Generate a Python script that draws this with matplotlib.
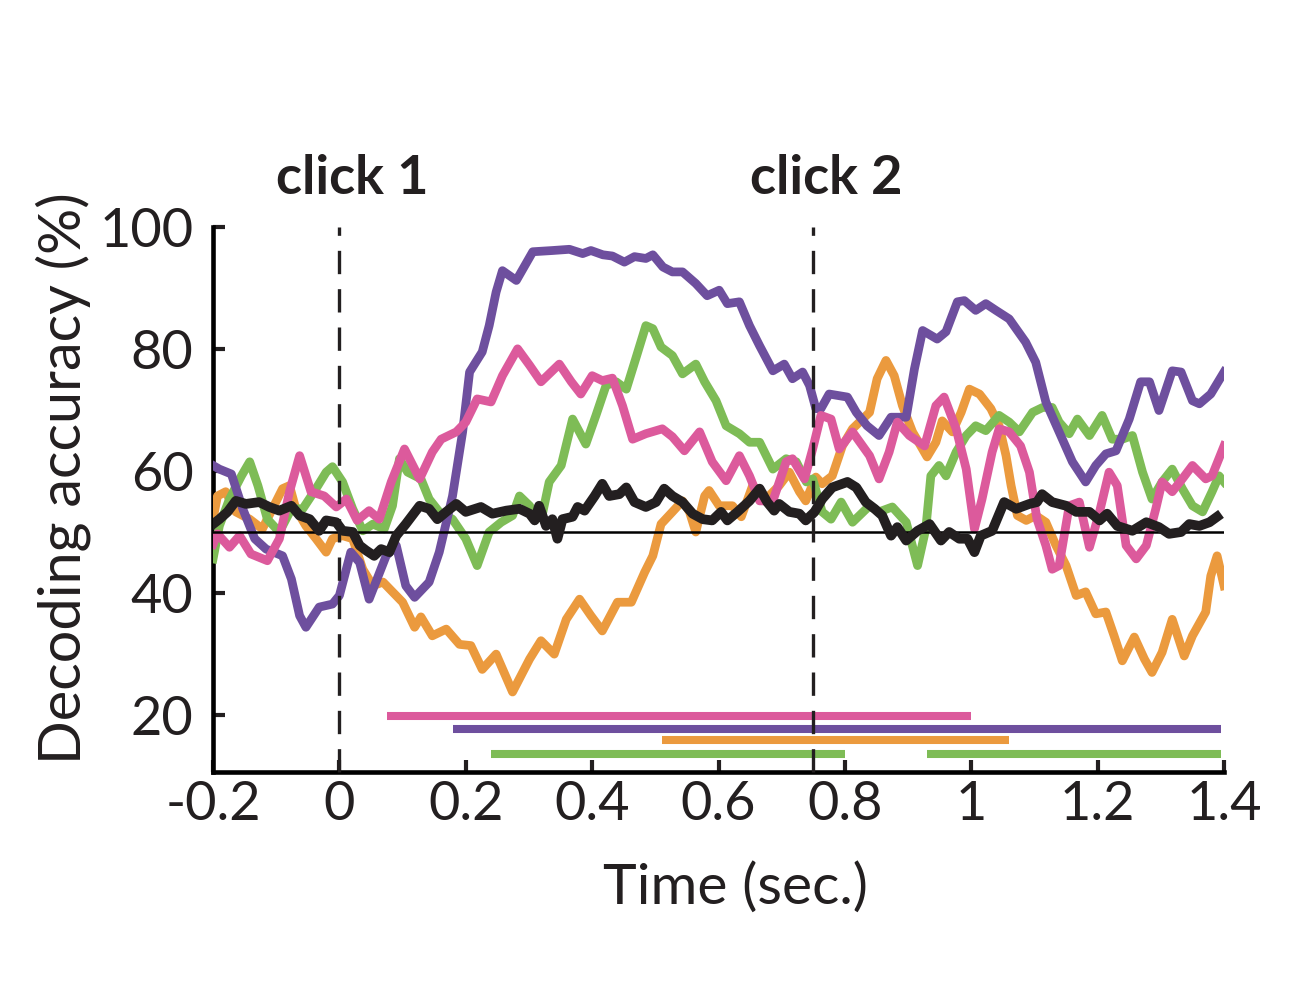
import matplotlib
matplotlib.use("Agg")
import matplotlib.pyplot as plt

# ---- data ----
purple_t = [-0.2, -0.19, -0.171, -0.153, -0.134, -0.116, -0.09, -0.076, -0.063, -0.053,
            -0.032, -0.011, 0.0, 0.018, 0.032, 0.047, 0.074, 0.09, 0.105, 0.119,
            0.142, 0.158, 0.179, 0.195, 0.206, 0.226, 0.237, 0.248, 0.258, 0.28,
            0.306, 0.337, 0.364, 0.385, 0.398, 0.417, 0.432, 0.451, 0.467, 0.485,
            0.496, 0.512, 0.527, 0.543, 0.564, 0.582, 0.601, 0.614, 0.633, 0.649,
            0.665, 0.686, 0.704, 0.717, 0.733, 0.744, 0.754, 0.762, 0.775, 0.804,
            0.818, 0.835, 0.854, 0.873, 0.897, 0.91, 0.923, 0.946, 0.96, 0.978,
            0.989, 1.007, 1.023, 1.039, 1.06, 1.086, 1.102, 1.118, 1.139, 1.16,
            1.181, 1.197, 1.213, 1.229, 1.25, 1.268, 1.282, 1.297, 1.318, 1.332,
            1.35, 1.361, 1.379, 1.4]
purple_y = [60.9, 60.3, 59.5, 53.8, 48.9, 47.2, 46.1, 42.3, 36.3, 34.4,
            37.7, 38.2, 39.6, 46.7, 45.0, 39.0, 46.1, 47.8, 41.2, 39.3,
            41.8, 46.7, 55.9, 66.4, 76.2, 79.5, 83.8, 89.3, 92.8, 91.2,
            95.9, 96.1, 96.3, 95.6, 96.1, 95.4, 95.2, 94.2, 95.1, 94.8,
            95.4, 93.4, 92.6, 92.6, 90.7, 88.7, 89.6, 87.4, 87.7, 83.8,
            80.5, 76.4, 77.5, 75.1, 76.2, 74.0, 70.2, 70.2, 72.6, 72.1,
            69.6, 67.4, 65.8, 68.8, 68.8, 76.7, 83.0, 81.6, 82.8, 87.7,
            87.9, 86.3, 87.4, 86.3, 84.9, 81.1, 77.8, 71.3, 66.4, 61.5,
            58.2, 60.9, 62.8, 63.3, 68.5, 74.6, 74.6, 69.9, 76.4, 76.2,
            71.5, 71.0, 72.6, 76.2]

pink_t = [-0.2, -0.193, -0.174, -0.158, -0.14, -0.114, -0.095, -0.079, -0.063, -0.045,
          -0.024, -0.005, 0.011, 0.028, 0.047, 0.063, 0.082, 0.103, 0.127, 0.147,
          0.161, 0.185, 0.2, 0.218, 0.24, 0.258, 0.282, 0.301, 0.319, 0.348,
          0.367, 0.382, 0.4, 0.416, 0.432, 0.448, 0.464, 0.485, 0.511, 0.527,
          0.546, 0.57, 0.59, 0.612, 0.633, 0.649, 0.665, 0.686, 0.707, 0.717,
          0.736, 0.749, 0.762, 0.778, 0.791, 0.812, 0.839, 0.854, 0.87, 0.883,
          0.902, 0.926, 0.944, 0.957, 0.976, 0.992, 1.005, 1.017, 1.033, 1.044,
          1.06, 1.078, 1.092, 1.104, 1.118, 1.128, 1.139, 1.155, 1.171, 1.187,
          1.203, 1.218, 1.231, 1.245, 1.261, 1.277, 1.292, 1.302, 1.318, 1.334,
          1.35, 1.371, 1.381, 1.4]
pink_y = [48.0, 49.7, 47.5, 49.4, 46.4, 45.3, 48.9, 56.6, 62.5, 56.6,
          55.9, 54.1, 55.4, 51.9, 53.5, 52.1, 58.2, 63.6, 58.7, 63.1,
          65.2, 66.4, 68.0, 71.8, 71.3, 75.6, 80.0, 77.3, 74.6, 77.5,
          74.6, 72.6, 75.6, 74.8, 75.2, 70.7, 65.2, 66.1, 66.9, 65.6,
          63.3, 66.4, 61.5, 58.4, 62.5, 59.2, 55.1, 55.1, 61.5, 62.0,
          58.7, 63.6, 69.1, 68.5, 63.6, 66.4, 62.5, 58.7, 63.1, 68.0,
          65.8, 64.1, 70.7, 72.1, 66.9, 60.3, 50.5, 55.4, 63.1, 66.9,
          66.4, 64.1, 59.8, 52.1, 47.8, 43.9, 44.5, 54.3, 54.9, 47.5,
          53.3, 59.8, 57.6, 47.8, 45.6, 47.8, 53.8, 58.2, 56.6, 58.7,
          60.9, 58.7, 59.2, 64.1]

green_t = [-0.2, -0.19, -0.174, -0.155, -0.142, -0.129, -0.114, -0.095, -0.076, -0.058,
           -0.037, -0.021, -0.011, 0.005, 0.021, 0.037, 0.053, 0.071, 0.084, 0.095,
           0.108, 0.129, 0.142, 0.158, 0.179, 0.2, 0.218, 0.237, 0.256, 0.274,
           0.285, 0.301, 0.311, 0.322, 0.332, 0.351, 0.369, 0.39, 0.406, 0.422,
           0.438, 0.454, 0.469, 0.485, 0.496, 0.509, 0.527, 0.543, 0.564, 0.578,
           0.596, 0.612, 0.633, 0.649, 0.665, 0.686, 0.707, 0.723, 0.739, 0.749,
           0.764, 0.778, 0.794, 0.812, 0.839, 0.854, 0.875, 0.897, 0.915, 0.928,
           0.936, 0.949, 0.96, 0.976, 0.992, 1.007, 1.023, 1.044, 1.06, 1.076,
           1.097, 1.113, 1.128, 1.139, 1.155, 1.168, 1.187, 1.207, 1.223, 1.239,
           1.255, 1.271, 1.286, 1.302, 1.318, 1.334, 1.35, 1.366, 1.381, 1.392,
           1.4]
green_y = [45.6, 51.0, 55.4, 59.2, 61.5, 57.6, 52.1, 50.0, 53.8, 53.8,
           57.1, 59.8, 60.7, 58.2, 53.8, 50.2, 51.3, 50.5, 54.3, 62.0,
           59.8, 58.7, 55.4, 53.3, 52.1, 48.9, 44.5, 50.0, 51.6, 52.7,
           55.9, 54.3, 52.1, 53.3, 58.2, 60.9, 68.5, 64.4, 69.1, 74.0,
           74.6, 73.4, 78.4, 83.8, 83.3, 80.3, 78.9, 75.9, 77.5, 74.6,
           71.5, 67.4, 66.1, 64.7, 64.7, 60.3, 62.0, 61.5, 58.2, 58.7,
           53.3, 52.1, 54.9, 51.6, 54.3, 53.3, 54.1, 51.6, 44.5, 50.5,
           59.2, 60.9, 59.2, 63.1, 65.8, 67.4, 66.6, 69.1, 68.0, 66.4,
           69.6, 70.4, 70.4, 68.0, 66.1, 68.5, 65.8, 69.1, 65.2, 65.2,
           65.8, 59.8, 55.4, 58.2, 60.3, 57.1, 54.3, 53.3, 56.6, 59.2,
           58.2]

orange_t = [-0.2, -0.193, -0.18, -0.164, -0.142, -0.122, -0.106, -0.09, -0.079, -0.069,
            -0.053, -0.037, -0.021, -0.011, 0.005, 0.021, 0.037, 0.053, 0.069, 0.084,
            0.1, 0.119, 0.129, 0.147, 0.169, 0.19, 0.208, 0.226, 0.248, 0.274,
            0.29, 0.301, 0.319, 0.34, 0.359, 0.38, 0.398, 0.416, 0.44, 0.462,
            0.483, 0.496, 0.509, 0.527, 0.543, 0.554, 0.564, 0.578, 0.585, 0.601,
            0.622, 0.636, 0.654, 0.675, 0.696, 0.712, 0.728, 0.738, 0.754, 0.764,
            0.78, 0.796, 0.812, 0.839, 0.851, 0.865, 0.878, 0.891, 0.907, 0.92,
            0.93, 0.944, 0.954, 0.97, 0.984, 0.997, 1.013, 1.031, 1.044, 1.055,
            1.063, 1.073, 1.087, 1.102, 1.118, 1.134, 1.15, 1.166, 1.181, 1.197,
            1.213, 1.226, 1.239, 1.258, 1.274, 1.286, 1.302, 1.318, 1.337, 1.35,
            1.371, 1.379, 1.389, 1.4]
orange_y = [52.1, 55.9, 56.6, 53.3, 52.1, 50.5, 53.8, 57.1, 57.6, 53.8,
            51.0, 48.9, 46.7, 48.9, 49.4, 48.9, 43.9, 41.2, 41.8, 40.2,
            38.5, 34.4, 36.1, 33.0, 34.1, 31.6, 31.4, 27.5, 30.0, 23.8,
            27.0, 29.2, 32.2, 30.0, 35.7, 39.0, 36.3, 33.8, 38.5, 38.5,
            43.4, 46.1, 51.3, 53.3, 55.1, 53.3, 50.0, 55.9, 56.8, 54.3,
            54.3, 52.5, 57.6, 55.4, 57.6, 59.8, 56.6, 55.1, 59.0, 57.9,
            59.2, 64.1, 66.9, 69.6, 75.1, 78.1, 75.6, 70.7, 66.4, 64.1,
            62.3, 64.7, 68.2, 66.4, 69.6, 73.4, 72.6, 70.2, 67.4, 62.5,
            57.6, 52.7, 51.9, 52.7, 51.6, 47.8, 44.5, 39.6, 40.2, 36.6,
            36.9, 33.0, 28.9, 32.8, 29.2, 27.0, 30.3, 35.7, 29.7, 33.0,
            36.9, 42.8, 46.1, 41.2]

black_t = [-0.2, -0.19, -0.177, -0.164, -0.148, -0.127, -0.111, -0.095, -0.076, -0.063,
           -0.047, -0.032, -0.021, -0.005, 0.005, 0.021, 0.032, 0.042, 0.055, 0.066,
           0.079, 0.09, 0.105, 0.127, 0.142, 0.155, 0.169, 0.185, 0.2, 0.224,
           0.242, 0.264, 0.285, 0.301, 0.309, 0.316, 0.327, 0.337, 0.345, 0.353,
           0.369, 0.377, 0.388, 0.404, 0.416, 0.427, 0.443, 0.454, 0.467, 0.485,
           0.501, 0.514, 0.527, 0.543, 0.559, 0.575, 0.59, 0.604, 0.614, 0.63,
           0.649, 0.665, 0.677, 0.688, 0.696, 0.712, 0.728, 0.738, 0.752, 0.764,
           0.78, 0.804, 0.818, 0.833, 0.847, 0.859, 0.873, 0.883, 0.897, 0.915,
           0.934, 0.952, 0.965, 0.981, 0.994, 1.005, 1.015, 1.033, 1.052, 1.071,
           1.092, 1.104, 1.112, 1.128, 1.15, 1.166, 1.187, 1.203, 1.215, 1.231,
           1.255, 1.277, 1.297, 1.313, 1.332, 1.345, 1.361, 1.377, 1.389]
black_y = [51.3, 52.1, 53.3, 55.1, 54.6, 54.9, 54.1, 53.5, 54.3, 52.7,
           52.1, 50.2, 51.9, 51.6, 50.2, 50.0, 47.8, 47.0, 46.1, 47.2,
           46.7, 49.4, 51.3, 54.3, 53.8, 52.1, 53.3, 54.6, 53.3, 54.1,
           53.0, 53.5, 53.8, 53.0, 51.9, 54.3, 51.0, 52.1, 48.9, 52.1,
           52.5, 54.1, 53.5, 55.9, 57.9, 55.9, 56.2, 57.3, 54.9, 54.1,
           54.9, 57.1, 55.9, 54.9, 53.0, 52.1, 51.9, 53.3, 51.9, 53.3,
           55.1, 57.1, 54.9, 53.5, 54.6, 53.3, 53.0, 51.9, 53.3, 55.4,
           57.3, 58.2, 57.3, 54.9, 53.8, 52.7, 49.4, 50.8, 48.6, 50.2,
           51.3, 48.6, 50.0, 48.9, 48.9, 46.7, 49.4, 50.2, 54.9, 53.8,
           54.6, 54.9, 56.2, 54.9, 54.3, 53.3, 53.3, 51.9, 53.0, 51.0,
           50.2, 51.6, 50.8, 49.7, 50.0, 51.3, 51.0, 51.6, 52.5]

# significance bars: (start, end) per series
pink_sig = [(0.076, 1.0)]
purple_sig = [(0.18, 1.395)]
orange_sig = [(0.51, 1.06)]
green_sig = [(0.24, 0.80), (0.93, 1.395)]

clicks = [0.0, 0.75]
click_labels = ["click 1", "click 2"]
chance = 50
xticks = [-0.2, 0, 0.2, 0.4, 0.6, 0.8, 1, 1.2, 1.4]
xticklabels = ["-0.2", "0", "0.2", "0.4", "0.6", "0.8", "1", "1.2", "1.4"]
yticks = [20, 40, 60, 80, 100]

PURPLE = "#6E4F9E"
PINK = "#DC5A9C"
GREEN = "#7EBC56"
ORANGE = "#EB9A3E"
BLACK = "#231F20"

plt.rcParams['font.family'] = ['Lato', 'DejaVu Sans']

fig = plt.figure(figsize=(13.03, 9.97), dpi=100)
ax = fig.add_axes([0.1635, 0.2257, 0.7759, 0.5469])

LW = 6.3
ax.plot(orange_t, orange_y, color=ORANGE, lw=LW, zorder=3)
ax.plot(green_t, green_y, color=GREEN, lw=LW, zorder=3)
ax.plot(purple_t, purple_y, color=PURPLE, lw=LW, zorder=4)
ax.plot(pink_t, pink_y, color=PINK, lw=LW, zorder=4)
ax.axhline(chance, color="black", lw=1.8, zorder=5)
ax.plot(black_t, black_y, color=BLACK, lw=7.0, zorder=6)

# significance bars
bar_rows = [(pink_sig, PINK, 19.8), (purple_sig, PURPLE, 17.8),
            (orange_sig, ORANGE, 15.9), (green_sig, GREEN, 13.7)]
for spans, col, lev in bar_rows:
    for a, b in spans:
        ax.plot([a, b], [lev, lev], color=col, lw=5.8, solid_capstyle='butt', zorder=3)

for c, lab in zip(clicks, click_labels):
    ax.plot([c, c], [10.7, 100], color=BLACK, lw=2.4, dashes=(7, 4.5),
            zorder=7, clip_on=False)
    ax.text(c + 0.02, 105.4, lab, ha='center', va='baseline', fontsize=39,
            fontweight='bold', color=BLACK)

ax.set_xlim(-0.2, 1.4)
ax.set_ylim(10.7, 100)
ax.set_xticks(xticks)
ax.set_xticklabels(xticklabels)
ax.set_yticks(yticks)

for s in ['top', 'right']:
    ax.spines[s].set_visible(False)
for s in ['left', 'bottom']:
    ax.spines[s].set_linewidth(3.3)
ax.tick_params(direction='in', length=8.6, width=3.0, labelsize=39,
               colors=BLACK)
ax.tick_params(axis='y', pad=14)
ax.tick_params(axis='x', pad=6)

fig.text(63 / 1303, 1 - 478 / 997, "Decoding accuracy (%)", rotation=90,
         ha='center', va='center', fontsize=41.5, color=BLACK)
fig.text(735 / 1303, 1 - 888 / 997, "Time (sec.)", ha='center', va='center',
         fontsize=41, color=BLACK)

fig.savefig("out.png", dpi=100)
